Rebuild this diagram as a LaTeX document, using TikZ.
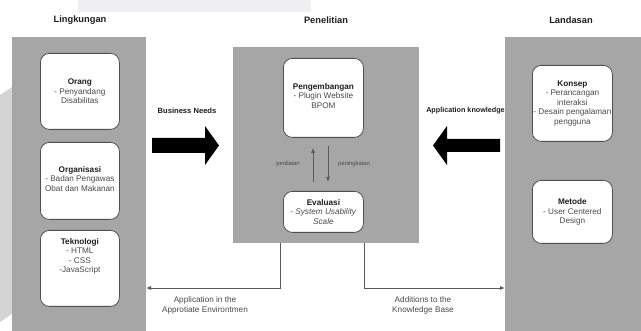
\documentclass[tikz,border=0pt]{standalone}
\usepackage{fontspec}
\setmainfont{Liberation Sans}
\usetikzlibrary{arrows.meta,calc}
\definecolor{panel}{HTML}{A6A6A6}
\definecolor{bord}{HTML}{4F4F4F}
\definecolor{txt}{HTML}{1E1E1E}
\definecolor{subt}{HTML}{4A4A4A}
\definecolor{wire}{HTML}{5A5A5A}
\begin{document}
\begin{tikzpicture}[x=1pt,y=-1pt,
  panelbox/.style={fill=panel,draw=none,inner sep=0pt,outer sep=0pt,anchor=north west},
  item/.style={draw=bord,line width=0.8pt,fill=white,rounded corners=9pt,inner sep=0pt,
    anchor=north west,align=center,text=subt,font=\fontsize{8.2}{9.4}\selectfont},
  itemtext/.style={inner sep=0pt,align=center,text=subt,font=\fontsize{8.2}{9.4}\selectfont},
  hdr/.style={text=txt,font=\fontsize{9.3}{11}\selectfont\bfseries},
  flowlbl/.style={text=txt,font=\fontsize{7.6}{9}\selectfont\bfseries},
  outlbl/.style={text=subt,align=center,font=\fontsize{8.2}{10}\selectfont},
  tinylbl/.style={text=subt,font=\fontsize{5.8}{7}\selectfont},
  conn/.style={draw=wire,line width=0.8pt,-{Latex[length=5pt,width=4pt]}},
  bigarrow/.style={fill=black}
]
\useasboundingbox (0,0) rectangle (641,331);
\fill[white] (0,0) rectangle (641,331);
% faint background traces
\fill[fill={rgb,255:red,240;green,240;blue,242}] (78,0) rectangle (311,12);
\fill[fill={rgb,255:red,212;green,212;blue,212}] (0,95) -- (12,87) -- (12,314) -- (0,322) -- cycle;

% headers
\node[hdr] (hL) at (80,20) {Lingkungan};
\node[hdr] (hP) at (326,20) {Penelitian};
\node[hdr] (hR) at (571,20) {Landasan};

% panels
\node[panelbox,minimum width=134pt,minimum height=294pt] (lpanel) at (12,37) {};
\node[panelbox,minimum width=186pt,minimum height=196pt] (cpanel) at (233,47) {};
\node[panelbox,minimum width=136pt,minimum height=294pt] (rpanel) at (505,37) {};

% left items
\node[item,minimum width=79pt,minimum height=76pt] (orang) at (40,53)
  {\textcolor{txt}{\textbf{Orang}}\\- Penyandang\\Disabilitas};
\node[item,minimum width=79pt,minimum height=77pt] (org) at (40,142) {};
\node[itemtext] (orgt) at ($(org.center)+(0,-2)$)
  {\textcolor{txt}{\textbf{Organisasi}}\\- Badan Pengawas\\Obat dan Makanan};
\node[item,minimum width=79pt,minimum height=76pt] (tek) at (40,230) {};
\node[itemtext] (tekt) at ($(tek.center)+(0,-12)$)
  {\textcolor{txt}{\textbf{Teknologi}}\\- HTML\\- CSS\\-JavaScript};

% center items
\node[item,minimum width=80pt,minimum height=79pt] (peng) at (283,58) {};
\node[itemtext] (pengt) at ($(peng.center)+(0,-2)$)
  {\textcolor{txt}{\textbf{Pengembangan}}\\- Plugin Website\\BPOM};
\node[item,minimum width=80pt,minimum height=41pt] (eva) at (283,191)
  {\textcolor{txt}{\textbf{Evaluasi}}\\- \textit{System Usability}\\\textit{Scale}};

% right items
\node[item,minimum width=80pt,minimum height=76pt] (kons) at (532,65)
  {\textcolor{txt}{\textbf{Konsep}}\\- Perancangan\\interaksi\\- Desain pengalaman\\pengguna};
\node[item,minimum width=80pt,minimum height=63pt] (met) at (532,180)
  {\textcolor{txt}{\textbf{Metode}}\\- User Centered\\Design};

% big arrows
\fill[bigarrow] (152,138) -- (205,138) -- (205,126) -- (219,145.5) -- (205,165) -- (205,153) -- (152,153) -- cycle;
\fill[bigarrow] (500,139) -- (447,139) -- (447,126) -- (433,145.5) -- (447,165) -- (447,152) -- (500,152) -- cycle;
\node[flowlbl] (bn) at (187,111) {Business Needs};
\node[flowlbl,font=\fontsize{7.2}{9}\selectfont\bfseries] (ak) at (465.5,111) {Application knowledge};

% inner arrows
\coordinate (ux) at (313,0);
\coordinate (dx) at (328,0);
\draw[conn,shorten <=9pt,shorten >=10pt] (eva.north -| ux) -- (peng.south -| ux);
\draw[conn,shorten <=8pt,shorten >=9pt] (peng.south -| dx) -- (eva.north -| dx);
\node[tinylbl] (pen) at (288,164) {penilaian};
\node[tinylbl] (pet) at (354,164) {peningkatan};

% output connectors
\coordinate (lo) at (0,288);
\coordinate (lx) at (280,0);
\coordinate (rx) at (364,0);
\draw[conn] (cpanel.south -| lx) |- (lpanel.east |- lo);
\draw[conn] (cpanel.south -| rx) |- (rpanel.west |- lo);
\node[outlbl] (ap) at (205,305.5) {Application in the\\Approtiate Environtmen};
\node[outlbl] (ad) at (423,305.5) {Additions to the\\Knowledge Base};
\end{tikzpicture}
\end{document}
